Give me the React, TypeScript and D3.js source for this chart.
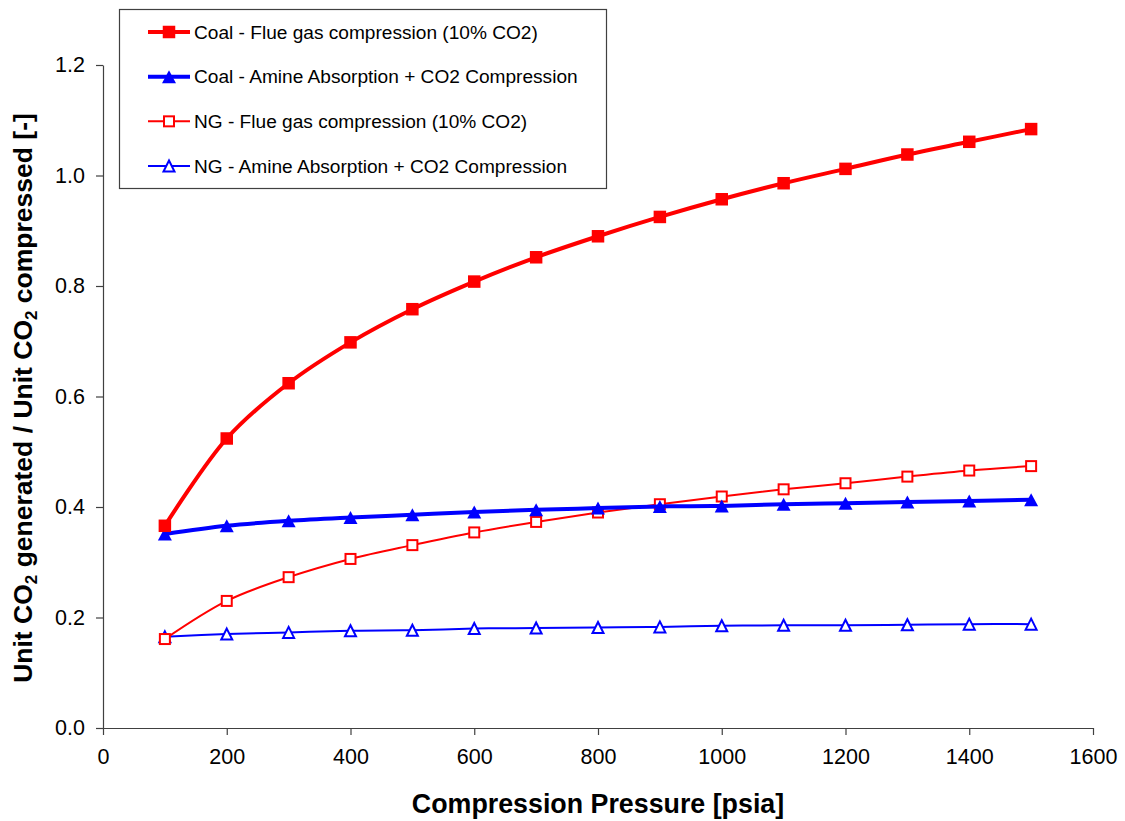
import React, { useEffect, useRef } from "react";
import * as d3 from "d3";

// pressure points (psia)
const pressures = [100, 200, 300, 400, 500, 600, 700, 800, 900, 1000, 1100, 1200, 1300, 1400, 1500];

const coalFlue = [0.366, 0.524, 0.624, 0.698, 0.758, 0.808, 0.852, 0.890, 0.925, 0.957, 0.986, 1.012, 1.038, 1.061, 1.084];
const coalAmine = [0.351, 0.366, 0.375, 0.381, 0.386, 0.391, 0.395, 0.398, 0.401, 0.402, 0.405, 0.407, 0.409, 0.411, 0.413];
const ngFlue = [0.161, 0.230, 0.273, 0.306, 0.331, 0.354, 0.373, 0.390, 0.405, 0.419, 0.432, 0.443, 0.455, 0.466, 0.474];
const ngAmine = [0.165, 0.170, 0.173, 0.176, 0.177, 0.180, 0.181, 0.182, 0.183, 0.185, 0.186, 0.186, 0.187, 0.188, 0.188];

const seriesNames = [
  "Coal - Flue gas compression (10% CO2)",
  "Coal - Amine Absorption + CO2 Compression",
  "NG - Flue gas compression (10% CO2)",
  "NG - Amine Absorption + CO2 Compression",
];

const xTicks = [0, 200, 400, 600, 800, 1000, 1200, 1400, 1600];
const yTicks = [0, 0.2, 0.4, 0.6, 0.8, 1.0, 1.2];

const FONT = "'Liberation Sans', Arial, sans-serif";

export default function App() {
  const ref = useRef<SVGSVGElement>(null);

  useEffect(() => {
    const svg = d3.select(ref.current);
    svg.selectAll("*").remove();

    const x = d3.scaleLinear().domain([0, 1600]).range([103, 1093]);
    const y = d3.scaleLinear().domain([0, 1.2]).range([728, 65]);

    const axisColor = "#404040";

    // x axis
    const xAxis = svg.append("g")
      .attr("transform", "translate(0,728)")
      .call(d3.axisBottom(x).tickValues(xTicks).tickSize(7).tickSizeOuter(0).tickPadding(14).tickFormat(d3.format("d")));
    xAxis.select(".domain").attr("stroke", axisColor).attr("stroke-width", 1.2);
    xAxis.selectAll(".tick line").attr("stroke", axisColor).attr("stroke-width", 1.2);
    xAxis.selectAll(".tick text").attr("font-family", FONT).attr("font-size", 21.5).attr("fill", "#000");

    // y axis
    const yAxis = svg.append("g")
      .attr("transform", "translate(103,0)")
      .call(d3.axisLeft(y).tickValues(yTicks).tickSize(7).tickSizeOuter(0).tickPadding(11).tickFormat(d3.format(".1f")));
    yAxis.select(".domain").attr("stroke", axisColor).attr("stroke-width", 1.2);
    yAxis.selectAll(".tick line").attr("stroke", axisColor).attr("stroke-width", 1.2);
    yAxis.selectAll(".tick text").attr("font-family", FONT).attr("font-size", 21.5).attr("fill", "#000");

    // axis titles
    svg.append("text")
      .attr("x", 598)
      .attr("y", 813)
      .attr("text-anchor", "middle")
      .attr("font-family", FONT)
      .attr("font-weight", "bold")
      .attr("font-size", 26.8)
      .text("Compression Pressure [psia]");

    const yTitle = svg.append("text")
      .attr("transform", "translate(32,398) rotate(-90)")
      .attr("text-anchor", "middle")
      .attr("font-family", FONT)
      .attr("font-weight", "bold")
      .attr("font-size", 26.5);
    yTitle.append("tspan").text("Unit CO");
    yTitle.append("tspan").attr("font-size", 17).attr("dy", 5).text("2");
    yTitle.append("tspan").attr("dy", -5).text(" generated / Unit CO");
    yTitle.append("tspan").attr("font-size", 17).attr("dy", 5).text("2");
    yTitle.append("tspan").attr("dy", -5).text(" compressed [-]");

    const series = [
      { name: seriesNames[0], values: coalFlue, color: "#FF0000", width: 4, marker: "square", filled: true },
      { name: seriesNames[1], values: coalAmine, color: "#0000FF", width: 4, marker: "triangle", filled: true },
      { name: seriesNames[2], values: ngFlue, color: "#FF0000", width: 2, marker: "square", filled: false },
      { name: seriesNames[3], values: ngAmine, color: "#0000FF", width: 2, marker: "triangle", filled: false },
    ];

    const line = d3.line<number>()
      .x((d, i) => x(pressures[i]))
      .y((d) => y(d))
      .curve(d3.curveCatmullRom.alpha(0.5));

    const drawMarker = (g: any, s: any, cx: number, cy: number) => {
      if (s.marker === "square") {
        const size = s.filled ? 12.5 : 10;
        g.append("rect")
          .attr("x", cx - size / 2)
          .attr("y", cy - size / 2)
          .attr("width", size)
          .attr("height", size)
          .attr("fill", s.filled ? s.color : "#fff")
          .attr("stroke", s.color)
          .attr("stroke-width", s.filled ? 0 : 2);
      } else {
        const w = s.filled ? 14 : 11;
        const h = s.filled ? 13 : 11;
        g.append("path")
          .attr("d", `M${cx},${cy - h / 2}L${cx + w / 2},${cy + h / 2}L${cx - w / 2},${cy + h / 2}Z`)
          .attr("fill", s.filled ? s.color : "#fff")
          .attr("stroke", s.color)
          .attr("stroke-width", s.filled ? 0 : 2)
          .attr("stroke-linejoin", "miter");
      }
    };

    // draw series, back to front
    [3, 2, 1, 0].forEach((k) => {
      const s = series[k];
      const g = svg.append("g");
      g.append("path")
        .attr("d", line(s.values))
        .attr("fill", "none")
        .attr("stroke", s.color)
        .attr("stroke-width", s.width);
      s.values.forEach((v, i) => drawMarker(g, s, x(pressures[i]), y(v)));
    });

    // legend
    const legend = svg.append("g");
    legend.append("rect")
      .attr("x", 119.5)
      .attr("y", 9.5)
      .attr("width", 487)
      .attr("height", 179)
      .attr("fill", "#fff")
      .attr("stroke", axisColor)
      .attr("stroke-width", 1.2);

    const rowY = d3.scalePoint<number>().domain([0, 1, 2, 3]).range([32, 166]);
    series.forEach((s, k) => {
      const cy = rowY(k) as number;
      legend.append("line")
        .attr("x1", 148)
        .attr("x2", 190)
        .attr("y1", cy)
        .attr("y2", cy)
        .attr("stroke", s.color)
        .attr("stroke-width", s.width);
      drawMarker(legend, s, 169, cy);
      legend.append("text")
        .attr("x", 194)
        .attr("y", cy + 6.8)
        .attr("font-family", FONT)
        .attr("font-size", 19.1)
        .attr("fill", "#000")
        .text(s.name);
    });
  }, []);

  return (
    <svg
      ref={ref}
      width={1125}
      height={821}
      style={{ position: "absolute", left: 0, top: 0, background: "#fff" }}
    />
  );
}
